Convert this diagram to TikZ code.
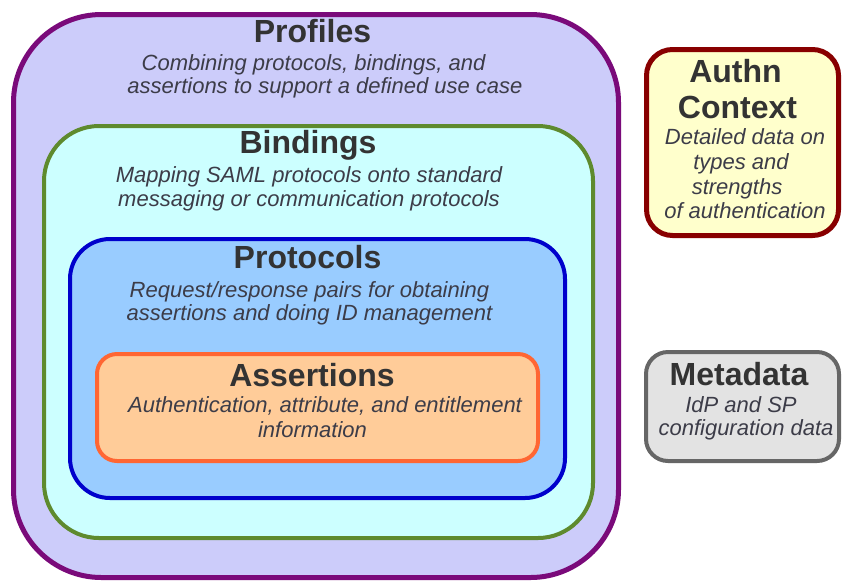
\documentclass[tikz,border=0pt]{standalone}
\usepackage{fontspec}
\setmainfont{Liberation Sans}
\definecolor{profFill}{HTML}{CCCCFA}
\definecolor{profLine}{HTML}{7A0A7A}
\definecolor{bindFill}{HTML}{CCFFFF}
\definecolor{bindLine}{HTML}{5E8A2E}
\definecolor{protFill}{HTML}{99CCFF}
\definecolor{protLine}{HTML}{0000CC}
\definecolor{asrtFill}{HTML}{FFCC99}
\definecolor{asrtLine}{HTML}{FF6633}
\definecolor{authFill}{HTML}{FFFFCC}
\definecolor{authLine}{HTML}{880000}
\definecolor{metaFill}{HTML}{E3E3E3}
\definecolor{metaLine}{HTML}{666666}
\definecolor{titleText}{HTML}{333333}
\definecolor{descText}{HTML}{3C3C48}
\tikzset{
  layerbox/.style={draw, rectangle, inner sep=0pt, line width=4pt},
  titletext/.style={anchor=base, inner sep=0pt, text=titleText, font=\bfseries\fontsize{32}{32}\selectfont},
  desctext/.style={anchor=base, inner sep=0pt, text=descText, font=\itshape\fontsize{22}{24}\selectfont},
}
\begin{document}
\begin{tikzpicture}[x=1pt, y=-1pt]
\useasboundingbox (0,0) rectangle (842,582);
\fill[white] (0,0) rectangle (842,582);
% boxes
\node[layerbox, line width=5pt, fill=profFill, draw=profLine, rounded corners=88pt,
  minimum width=605pt, minimum height=563pt] (profiles) at (316,296) {};
\node[layerbox, fill=bindFill, draw=bindLine, rounded corners=55pt,
  minimum width=549pt, minimum height=412pt] (bindings) at (318.5,332) {};
\node[layerbox, fill=protFill, draw=protLine, rounded corners=40pt,
  minimum width=495pt, minimum height=259pt] (protocols) at (317.5,368.5) {};
\node[layerbox, fill=asrtFill, draw=asrtLine, rounded corners=20pt,
  minimum width=441pt, minimum height=107pt] (assertions) at (317.5,407.5) {};
\node[layerbox, line width=5pt, fill=authFill, draw=authLine, rounded corners=26pt,
  minimum width=192pt, minimum height=186pt] (authn) at (742.5,142.5) {};
\node[layerbox, fill=metaFill, draw=metaLine, rounded corners=22pt,
  minimum width=193pt, minimum height=109pt] (metadata) at (742.5,406.5) {};
% Profiles
\node[titletext] (profT) at (312.5,42) {Profiles};
\node[desctext] (profD1) at (313.5,70) {Combining protocols, bindings, and};
\node[desctext] (profD2) at (325,93) {assertions to support a defined use case};
% Bindings
\node[titletext] (bindT) at (308,153) {Bindings};
\node[desctext] (bindD1) at (309,182) {Mapping SAML protocols onto standard};
\node[desctext] (bindD2) at (309,206) {messaging or communication protocols};
% Protocols
\node[titletext] (protT) at (307.5,268) {Protocols};
\node[desctext] (protD1) at (309.5,297) {Request/response pairs for obtaining};
\node[desctext] (protD2) at (309.5,320) {assertions and doing ID management};
% Assertions
\node[titletext] (asrtT) at (312,386) {Assertions};
\node[desctext] (asrtD1) at (325,412) {Authentication, attribute, and entitlement};
\node[desctext] (asrtD2) at (312.5,437) {information};
% Authn Context
\node[titletext] (authT1) at (735.5,82) {Authn};
\node[titletext] (authT2) at (737.5,118) {Context};
\node[desctext] (authD1) at (745,144) {Detailed data on};
\node[desctext] (authD2) at (741,169) {types and};
\node[desctext] (authD3) at (737,194) {strengths};
\node[desctext] (authD4) at (745,218) {of authentication};
% Metadata
\node[titletext] (metaT) at (739,385) {Metadata};
\node[desctext] (metaD1) at (741,412) {IdP and SP};
\node[desctext] (metaD2) at (746,435) {configuration data};
\end{tikzpicture}
\end{document}
